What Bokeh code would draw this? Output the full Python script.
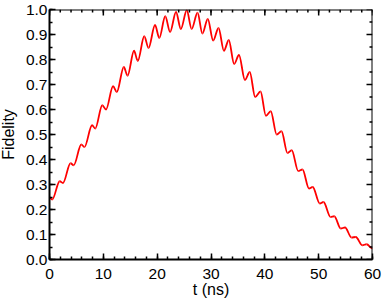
import math
from bokeh.plotting import figure
from bokeh.models import Range1d, SingleIntervalTicker, PrintfTickFormatter, ColumnDataSource
from bokeh.embed import file_html
from bokeh.resources import INLINE

# Turning points (peaks / troughs) of the fidelity curve
t_ns = [0.0, 0.5, 1.9, 2.5, 3.9, 4.5, 5.9, 6.5, 7.9, 8.5, 9.8, 10.5, 11.8, 12.5,
        13.8, 14.5, 15.7, 16.4, 17.6, 18.4, 19.6, 20.4, 21.5, 22.4, 23.5, 24.4,
        25.5, 26.4, 27.5, 28.4, 29.4, 30.4, 31.4, 32.4, 33.3, 34.3, 35.2, 36.3,
        37.2, 38.2, 39.2, 40.2, 41.1, 42.2, 43.1, 44.2, 45.0, 46.2, 47.0, 48.2,
        48.9, 50.2, 50.9, 52.2, 52.9, 54.1, 54.9, 56.1, 56.9, 58.1, 58.9, 60.0]
fidelity = [0.248, 0.240, 0.313, 0.306, 0.385, 0.377, 0.460, 0.450, 0.537, 0.524,
            0.617, 0.600, 0.693, 0.670, 0.770, 0.735, 0.835, 0.794, 0.893, 0.846,
            0.938, 0.886, 0.973, 0.910, 0.990, 0.922, 0.997, 0.922, 0.987, 0.904,
            0.962, 0.876, 0.926, 0.835, 0.878, 0.782, 0.818, 0.718, 0.750, 0.650,
            0.672, 0.575, 0.593, 0.500, 0.513, 0.426, 0.437, 0.354, 0.360, 0.284,
            0.290, 0.224, 0.230, 0.170, 0.173, 0.124, 0.128, 0.088, 0.090, 0.057,
            0.061, 0.044]
assert len(t_ns) == len(fidelity)

x_range = (0, 60)
y_range = (0, 1)
x_major = [0, 10, 20, 30, 40, 50, 60]
x_minor = [0, 2, 4, 6, 8, 10, 12, 14, 16, 18, 20, 22, 24, 26, 28, 30,
           32, 34, 36, 38, 40, 42, 44, 46, 48, 50, 52, 54, 56, 58, 60]
y_major = [0.0, 0.1, 0.2, 0.3, 0.4, 0.5, 0.6, 0.7, 0.8, 0.9, 1.0]
y_minor = [0.05, 0.15, 0.25, 0.35, 0.45, 0.55, 0.65, 0.75, 0.85, 0.95]
x_label = "t (ns)"
y_label = "Fidelity"

FONT = "Liberation Sans"

p = figure(width=386, height=306, output_backend="svg", toolbar_location=None,
           x_range=Range1d(*x_range), y_range=Range1d(*y_range),
           min_border_left=52, min_border_right=10, min_border_top=9, min_border_bottom=47,
           x_axis_label=x_label, y_axis_label=y_label)
p.margin = (0, 0, 0, -4)
p.grid.visible = False
p.outline_line_color = None
p.background_fill_color = "white"
p.border_fill_color = "white"

# smooth curve through turning points (horizontal tangents at each turning point)
x0 = t_ns[:-1]; x1 = t_ns[1:]
y0 = fidelity[:-1]; y1 = fidelity[1:]
cx0 = [a + (b - a) / 3 for a, b in zip(x0, x1)]
cx1 = [b - (b - a) / 3 for a, b in zip(x0, x1)]
src = ColumnDataSource(dict(x0=x0, y0=y0, x1=x1, y1=y1, cx0=cx0, cy0=y0, cx1=cx1, cy1=y1))
p.bezier(x0="x0", y0="y0", x1="x1", y1="y1", cx0="cx0", cy0="cy0", cx1="cx1", cy1="cy1",
         source=src, line_color="#ff0000", line_width=1.8)

p.xaxis.ticker = SingleIntervalTicker(interval=10, num_minor_ticks=5)
p.yaxis.ticker = SingleIntervalTicker(interval=0.1, num_minor_ticks=2)
p.yaxis.formatter = PrintfTickFormatter(format="%.1f")
for ax in list(p.xaxis) + list(p.yaxis):
    ax.axis_line_color = "black"
    ax.axis_line_width = 2
    ax.major_tick_in = 6
    ax.major_tick_out = 0
    ax.minor_tick_in = 3
    ax.minor_tick_out = 0
    ax.major_tick_line_width = 1.5
    ax.minor_tick_line_width = 1.5
    ax.major_tick_line_color = "black"
    ax.minor_tick_line_color = "black"
    ax.major_label_text_font = FONT
    ax.major_label_text_font_size = "15.5px"
    ax.major_label_text_color = "black"
    ax.axis_label_text_font = FONT
    ax.axis_label_text_font_size = "16px"
    ax.axis_label_text_font_style = "normal"
    ax.axis_label_text_color = "black"
for ax in p.xaxis:
    ax.major_label_standoff = 9
    ax.axis_label_standoff = -1
for ax in p.yaxis:
    ax.major_label_standoff = 2
    ax.axis_label_standoff = 6

# mirrored ticks on the top and right frame edges (tick marks only, no labels)
p.ray(x=x_major, y=[y_range[1]] * len(x_major), length=6, angle=-math.pi / 2,
      length_units="screen", line_color="black", line_width=1.5)
p.ray(x=x_minor, y=[y_range[1]] * len(x_minor), length=3, angle=-math.pi / 2,
      length_units="screen", line_color="black", line_width=1.5)
p.ray(x=[x_range[1]] * len(y_major), y=y_major, length=6, angle=math.pi,
      length_units="screen", line_color="black", line_width=1.5)
p.ray(x=[x_range[1]] * len(y_minor), y=y_minor, length=3, angle=math.pi,
      length_units="screen", line_color="black", line_width=1.5)
p.segment(x0=[x_range[0]], y0=[y_range[1]], x1=[x_range[1]], y1=[y_range[1]],
          line_color="black", line_width=2)
p.segment(x0=[x_range[1]], y0=[y_range[0]], x1=[x_range[1]], y1=[y_range[1]],
          line_color="black", line_width=2)

open("out.html", "w").write(file_html(p, INLINE))
